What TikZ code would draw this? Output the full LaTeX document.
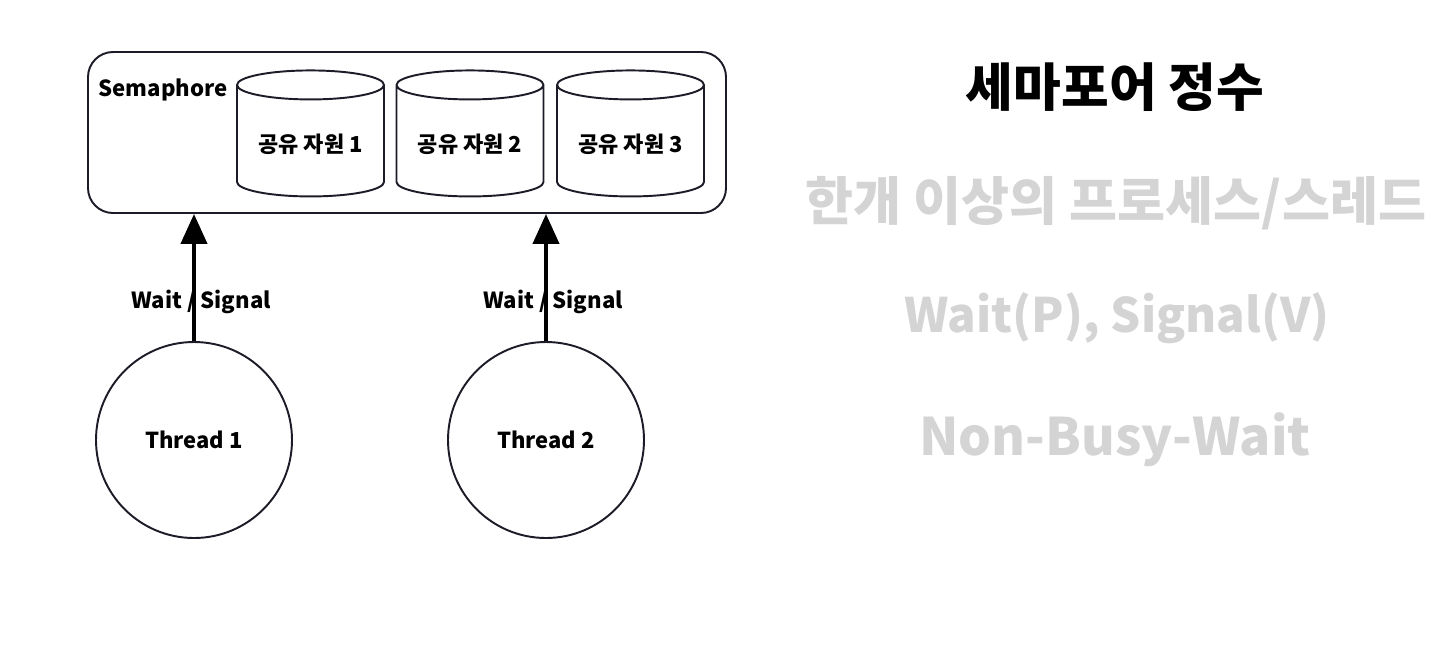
\documentclass[tikz,border=0pt]{standalone}
\usepackage{fontspec}
\setmainfont{Noto Sans CJK KR}
\usetikzlibrary{arrows.meta,shapes.geometric,positioning}
\definecolor{L}{RGB}{28,28,40}
\definecolor{Gr}{RGB}{212,212,212}

\begin{document}
\begin{tikzpicture}[
    line width=1.1pt,
    res/.style={cylinder, shape border rotate=90, aspect=0.25, draw=L,
        minimum width=2.94cm, minimum height=2.52cm,
        font=\bfseries\fontsize{12.5}{14}\selectfont},
    thr/.style={circle, draw=L, minimum size=3.92cm,
        font=\bfseries\fontsize{12.5}{14}\selectfont},
    lbl/.style={font=\bfseries\fontsize{12.6}{14}\selectfont},
    arr/.style={line width=2.4pt, -{Triangle[width=0.52cm,length=0.6cm]}},
    big/.style={font=\bfseries\fontsize{29.4}{32}\selectfont, text=Gr}
]
    \useasboundingbox (0,0) rectangle (28.98,-12.92);

    %Caja del semaforo
    \node[draw=L, rounded corners=0.5cm, minimum width=12.76cm,
        minimum height=3.22cm] (sem) at (8.14,-2.65) {};
    \node[lbl] (semtxt) at (3.26,-1.80) {Semaphore};

    %Recursos compartidos
    \foreach \i/\x in {1/6.21, 2/9.40, 3/12.61}
        \node[res] (r\i) at (\x,-2.88) {공유 자원 \i};

    %Hilos
    \node[thr] (t1) at (3.88,-8.80) {Thread 1};
    \node[thr] (t2) at (10.92,-8.80) {Thread 2};

    %Flechas Wait / Signal
    \draw[arr] (t1.north) -- (t1.north |- sem.south)
        node[lbl, pos=0.356, xshift=0.14cm, yshift=-0.12cm] (ws1) {Wait / Signal};
    \draw[arr] (t2.north) -- (t2.north |- sem.south)
        node[lbl, pos=0.356, xshift=0.14cm, yshift=-0.12cm] (ws2) {Wait / Signal};

    %Texto de la derecha
    \node[font=\bfseries\fontsize{29.5}{32}\selectfont] (titulo) at (22.30,-1.74) {세마포어 정수};
    \node[big, font=\bfseries\fontsize{29.7}{32}\selectfont] (p1) at (22.32,-4.06) {한개 이상의 프로세스/스레드};
    \node[big, font=\bfseries\fontsize{27}{30}\selectfont] (p2) at (22.34,-6.36) {Wait(P), Signal(V)};
    \node[big] (p3) at (22.30,-8.80) {Non-Busy-Wait};
\end{tikzpicture}
\end{document}
